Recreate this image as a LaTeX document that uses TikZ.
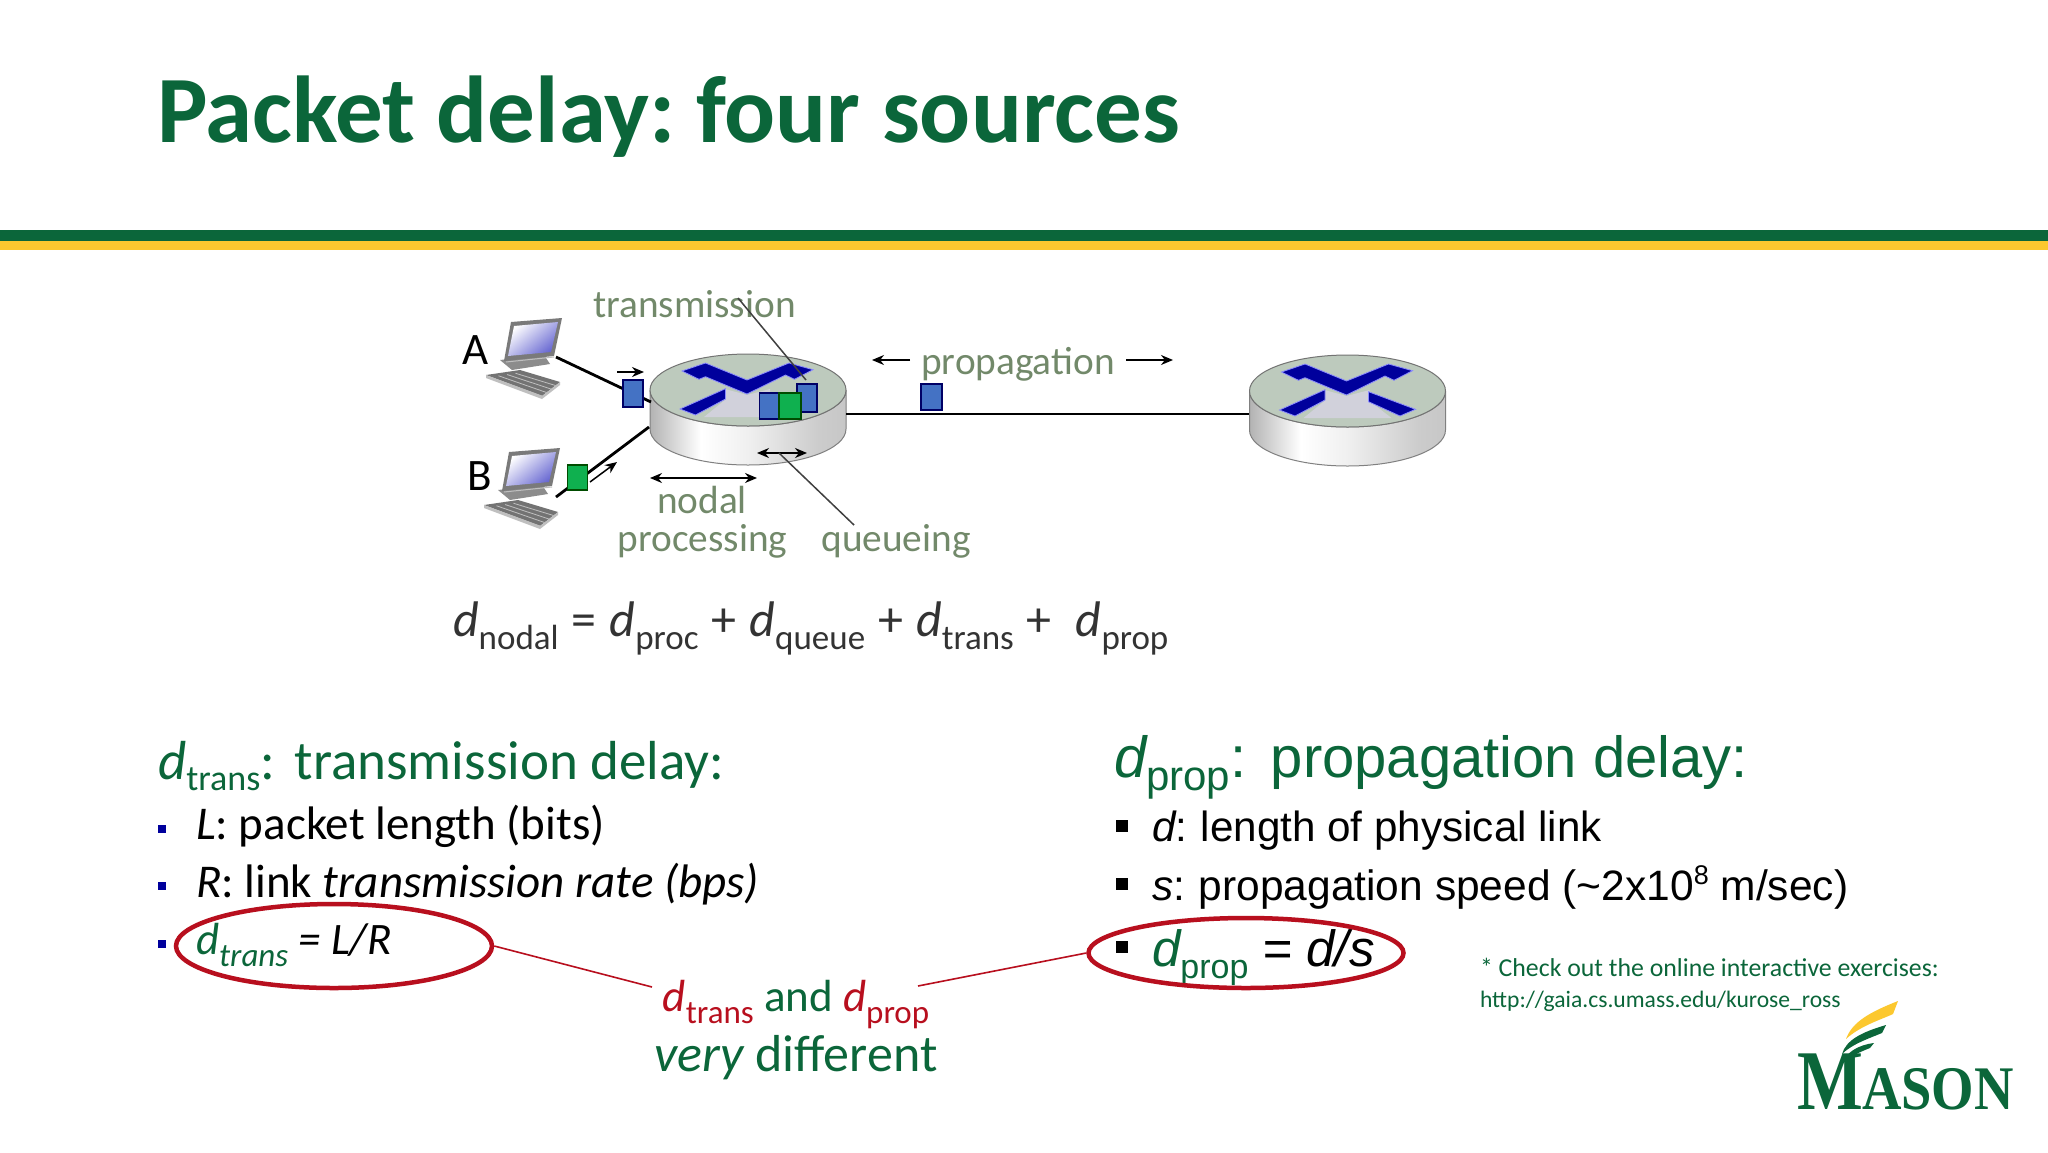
\documentclass[tikz,border=0pt]{standalone}
\usepackage{fontspec}
\setmainfont{Carlito}
\newfontfamily\arialf{Liberation Sans}
\newfontfamily\timesf{Liberation Serif}
\usetikzlibrary{arrows.meta,shapes.geometric}
\newcommand\fsz[1]{\fontsize{#1}{#1}\selectfont}
\newcommand\subtxt[3]{\raisebox{#2}{\fsz{#1}#3}}
\definecolor{masongreen}{HTML}{0B663A}
\definecolor{masongold}{HTML}{FCC82F}
\definecolor{labelgreen}{HTML}{72896A}
\definecolor{eqgray}{HTML}{333333}
\definecolor{ringred}{HTML}{B80F1E}
\definecolor{crossblue}{HTML}{00009C}
\definecolor{pktblue}{HTML}{4472C4}
\definecolor{pktgreen}{HTML}{0FB04F}
\pgfdeclarehorizontalshading{routerside}{100bp}{
 color(0bp)=(gray!70!white);
 color(25bp)=(gray!60!white);
 color(38bp)=(white);
 color(50bp)=(gray!12!white);
 color(68bp)=(gray!40!white);
 color(85bp)=(gray!50!white);
 color(100bp)=(gray!70!white)}
\tikzset{
 txt/.style={anchor=base west,inner sep=0pt,outer sep=0pt},
 ctxt/.style={anchor=base,inner sep=0pt,outer sep=0pt},
 lab/.style={ctxt,text=labelgreen,font=\fsz{39.3}},
 pkt/.style={draw=black!60!blue,line width=1.2pt,inner sep=0pt,outer sep=0pt},
 blue pkt/.style={pkt,fill=pktblue},
 green pkt/.style={pkt,fill=pktgreen,draw=green!30!black},
 bulleta/.style={fill=crossblue,minimum size=8pt,inner sep=0pt},
 bulletb/.style={fill=black,minimum size=12pt,inner sep=0pt},
 ring/.style={ellipse,draw=ringred,line width=4.5pt,inner sep=0pt},
 redline/.style={draw=ringred,line width=1.6pt},
 linkline/.style={draw=black,line width=2.8pt},
 leader/.style={draw=black!75,line width=1.5pt},
 smallarrow/.style={draw=black,line width=1.5pt,-{Stealth[length=12pt,width=10pt]}},
 bothway/.style={draw=black,line width=1.5pt,{Stealth[length=12pt,width=10pt]}-{Stealth[length=12pt,width=10pt]}},
 crossarm/.style={fill=crossblue,draw=blue!45!white,line width=.8pt},
 router/.pic={
  \shade[shading=routerside,draw=black!50,line width=1pt]
    (-98,0) -- (-98,39) arc[start angle=180,end angle=360,x radius=98pt,y radius=36pt]
    -- (98,0) arc[start angle=360,end angle=180,x radius=98pt,y radius=36pt] -- cycle;
  \fill[draw=black!55,line width=1pt,fill=black!22!white!95!green] (0,0) ellipse[x radius=98pt,y radius=36pt];
  \fill[blue!22!black!18!white] (-23,-1) -- (-1,5) -- (22,-1) -- (22,10) -- (44,27) -- (-44,27) -- (-23,10) -- cycle;
  \path[crossarm] (-66,-19)--(-42.5,-27)--(-1,-10)--(41,-27)--(65,-20.3)--(46.5,-10.7)--(37.5,-15)--(-1,4)--(-42.5,-13.3)--(-49,-10.7)--cycle;
  \path[crossarm] (-68,19)--(-22.5,-1.3)--(-22.5,9)--(-52.5,25)--cycle;
 },
 computer/.pic={
  \fill[black!45] (-4,42) -- (40,37) -- (46,46) -- (8,52) -- cycle;
  \fill[black!55] (-18,57) -- (16,52) -- (56,64) -- (38,78) -- cycle;
  \foreach \i in {0,.25,.5,.75} {\draw[black!25,line width=.8pt] ({-18+34*\i+4},{57-5*\i+2}) -- ({38+18*\i},{78-14*\i});}
  \fill[black!25] (-18,57) -- (-18,60) -- (38,81) -- (56,67) -- (56,64) -- (38,78) -- cycle;
  \fill[black!52] (7,4) -- (58,0) -- (50,38) -- (0,43) -- cycle;
  \shade[left color=white,right color=black!30!blue!60!white,shading angle=40] (10,8) -- (54,4) -- (47,34) -- (4,38) -- cycle;
  \draw[black!25,line width=1pt] (2,44) -- (50,39);
 }
}
\begin{document}
\begin{tikzpicture}[x=1pt,y=-1pt]
\useasboundingbox (0,0) rectangle (2048,1152);
\fill[white] (0,0) rectangle (2048,1152);

% title and rule
\node[txt,text=masongreen,font=\fsz{95}\bfseries] (title) at (157,142) {Packet delay:\kern-8pt{} four sources};
\fill[masongreen] (0,230) rectangle (2048,241);
\fill[masongold] (0,241) rectangle (2048,250);

% routers and link
\pic (ra) at (748,390) {router};
\pic (rb) at (1347.5,391) {router};
\path[crossarm] (1347.5+21,391+0.7)--(1347.5+68,391+18.3)--(1347.5+52.5,391+25)--(1347.5+21,391+10.7)--cycle;
\coordinate (ra east) at (846,414);
\coordinate (rb west) at (1249,414);
\draw[linkline] (ra east) -- (rb west);

% hosts
\pic (ca) at (504,318) {computer};
\pic (cb) at (502,448) {computer};
\node[txt,font=\fsz{45}] (la) at (462,364) {A};
\node[txt,font=\fsz{45}] (lb) at (467,490) {B};
\coordinate (aout) at (556,357);
\coordinate (ain) at (651,402);
\coordinate (bout) at (556,497);
\coordinate (bin) at (649,427);
\draw[linkline] (aout) -- (ain);
\draw[linkline] (bout) -- (bin);

% packets
\node[blue pkt,minimum width=20pt,minimum height=27pt] (pa) at (633,393.5) {};
\node[green pkt,minimum width=20pt,minimum height=25pt] (pb) at (577.5,477.5) {};
\node[blue pkt,minimum width=20pt,minimum height=28pt] (q3) at (807,398) {};
\node[blue pkt,minimum width=20pt,minimum height=26pt] (q1) at (769.5,406) {};
\node[green pkt,minimum width=22pt,minimum height=26pt] (q2) at (790,406) {};
\node[blue pkt,minimum width=21pt,minimum height=26pt] (pp) at (931.5,397) {};

% small arrows
\coordinate (a1) at (617,372); \coordinate (a2) at (644,372);
\draw[smallarrow] (a1) -- (a2);
\coordinate (b1) at (590,482); \coordinate (b2) at (617,462);
\draw[smallarrow] (b1) -- (b2);
\coordinate (n1) at (650,478); \coordinate (n2) at (757,478);
\draw[bothway] (n1) -- (n2);
\coordinate (w1) at (757,453); \coordinate (w2) at (807,453);
\draw[bothway] (w1) -- (w2);
\coordinate (pl1) at (910,360); \coordinate (pl2) at (872,360);
\draw[smallarrow] (pl1) -- (pl2);
\coordinate (pr1) at (1126,360); \coordinate (pr2) at (1173,360);
\draw[smallarrow] (pr1) -- (pr2);

% labels
\node[lab] (ltrans) at (694.5,317) {transmission};
\node[lab] (lprop) at (1018,374) {propagation};
\node[lab] (lnodal) at (702,513) {nodal};
\node[lab] (lproc) at (702.5,551) {processing};
\node[lab] (lqueue) at (896,551) {queueing};
\coordinate (tl) at (738,298);
\coordinate (tr) at (806,380);
\draw[leader] (tl) -- (tr);
\coordinate (ql) at (779,453);
\coordinate (qr) at (854,525);
\draw[leader] (ql) -- (qr);

% equation
\node[txt,text=eqgray,font=\fsz{50}] (eq) at (453,636) {\itshape d\upshape\subtxt{35}{-13pt}{nodal}\kern13pt=\kern13pt\itshape d\upshape\subtxt{35}{-13pt}{proc}\kern13pt+\kern13pt\itshape d\upshape\subtxt{35}{-13pt}{queue}\kern13pt+\kern13pt\itshape d\upshape\subtxt{35}{-13pt}{trans}\kern13pt+\kern24pt\itshape d\upshape\subtxt{35}{-13pt}{prop}};

% left column
\node[txt,text=masongreen,font=\fsz{55}] (hl) at (158,779) {\itshape d\upshape\subtxt{36}{-11pt}{trans}:\kern3pt{} transmission delay:};
\node[bulleta] (b1l) at (162,829) {};
\node[bulleta] (b2l) at (162,886) {};
\node[bulleta] (b3l) at (162,944) {};
\node[txt,font=\fsz{47}] (tl1) at (196,839) {\itshape L\upshape: packet length (bits)};
\node[txt,font=\fsz{47}] (tl2) at (196,897) {\itshape R\upshape: link \itshape transmission rate (bps)};
\node[txt,font=\fsz{45}\itshape] (tl3) at (196,954) {\textcolor{masongreen}{d\subtxt{33}{-12pt}{trans}} = L/R};

% right column
\node[txt,text=masongreen,font=\fsz{58}\arialf] (hr) at (1114,777) {\itshape d\upshape\subtxt{42}{-13pt}{prop}:\kern3pt{} propagation delay:};
\node[bulletb] (b1r) at (1122,826) {};
\node[bulletb] (b2r) at (1122,884) {};
\node[bulletb] (b3r) at (1122,947) {};
\node[txt,font=\fsz{42.2}\arialf] (tr1) at (1152,841) {\itshape d\upshape:\kern-2pt{} length of physical link};
\node[txt,font=\fsz{42.5}\arialf] (tr2) at (1152,900) {\itshape s\upshape:\kern-2pt{} propagation speed (\char`\~2x10\subtxt{27}{16pt}{8} m/sec)};
\node[txt,font=\fsz{51}\arialf\itshape] (tr3) at (1152,966) {\textcolor{masongreen}{d\upshape\subtxt{34}{-12pt}{prop}} = d/s};

% rings and connectors
\node[ring,minimum width=316pt,minimum height=84pt] (ringl) at (334,946) {};
\node[ring,minimum width=315pt,minimum height=70pt] (ringr) at (1246,953) {};
\coordinate (rl end) at (652,987);
\coordinate (rr end) at (918,986);
\draw[redline] (ringl.east) -- (rl end);
\draw[redline] (ringr.west) -- (rr end);
\node[ctxt,align=center,text=masongreen,font=\fsz{45}] (diff1) at (796,1011) {\textcolor{ringred}{\itshape d\upshape\subtxt{33}{-12pt}{trans}} and \textcolor{ringred}{\itshape d\upshape\subtxt{33}{-12pt}{prop}}};
\node[ctxt,text=masongreen,font=\fsz{52}] (diff2) at (796,1071) {\itshape very\upshape{} different};

% footnote
\node[txt,text=masongreen,font=\fsz{25.8}] (fn1) at (1480,976) {* Check out the online interactive exercises:};
\node[txt,text=masongreen,font=\fsz{23.6}] (fn2) at (1480,1007) {http://gaia.cs.umass.edu/kurose\_ross};

% logo
\fill[masongold] (1898,1001) .. controls (1870,1012) and (1852,1022) .. (1846,1039) .. controls (1860,1026) and (1880,1020) .. (1893,1014) -- cycle;
\fill[masongreen] (1886,1025) .. controls (1862,1032) and (1846,1040) .. (1842,1054) .. controls (1852,1044) and (1870,1038) .. (1882,1033) -- cycle;
\fill[masongreen] (1874,1043) .. controls (1858,1045) and (1846,1052) .. (1840,1066) .. controls (1850,1056) and (1860,1052) .. (1870,1048) -- cycle;
\node[txt,text=masongreen,font=\fsz{85}\timesf\bfseries,xscale=.82] (logom) at (1797,1109) {M};
\node[txt,text=masongreen,font=\fsz{62}\timesf\bfseries,xscale=.88] (logor) at (1862,1109) {ASON};
\end{tikzpicture}
\end{document}
